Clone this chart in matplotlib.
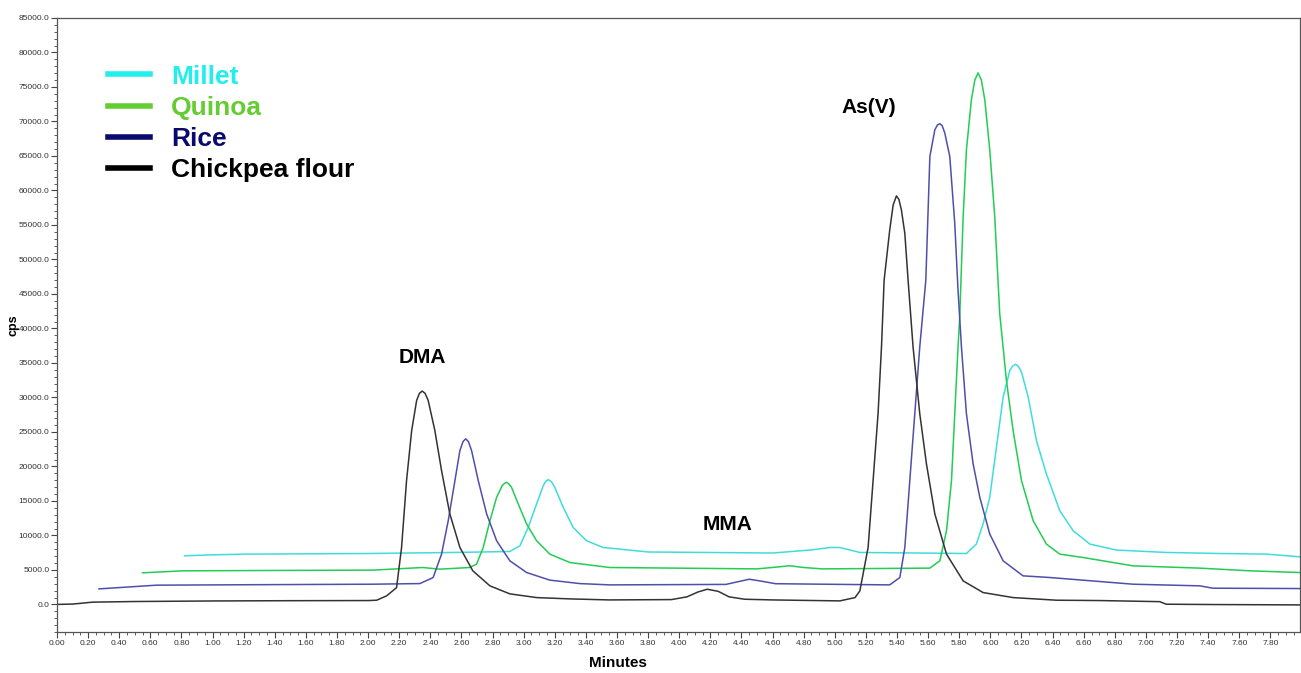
import matplotlib.pyplot as plt
from matplotlib.lines import Line2D
from matplotlib.ticker import MultipleLocator, FormatStrFormatter

plt.rcParams['font.family'] = ['Liberation Sans', 'DejaVu Sans']

# retention time (min) / intensity (cps)
chick_t = [0.0, 0.1, 0.23, 0.5, 1.0, 1.5, 2.0, 2.055, 2.119, 2.183, 2.215, 2.247, 2.28, 2.312,
           2.33, 2.348, 2.366, 2.386, 2.429, 2.472, 2.525, 2.59, 2.673, 2.783, 2.911, 3.083,
           3.297, 3.55, 3.95, 4.05, 4.12, 4.18, 4.25, 4.32, 4.42, 4.6, 5.032, 5.13, 5.161,
           5.214, 5.246, 5.278, 5.30, 5.317, 5.353, 5.375, 5.396, 5.412, 5.428, 5.45, 5.471,
           5.503, 5.546, 5.589, 5.643, 5.718, 5.825, 5.953, 6.146, 6.425, 6.703, 7.089, 7.13,
           7.45, 7.99]
chick_y = [0, 50, 330, 420, 500, 540, 560, 610, 1240, 2440, 8250, 17940, 25210, 29570,
           30600, 30920, 30600, 29570, 25210, 19400, 13150, 8250, 4870, 2690, 1530, 990,
           800, 650, 700, 1100, 1800, 2200, 1900, 1100, 750, 650, 510, 990, 1960,
           8250, 17940, 27640, 37310, 47000, 54270, 57900, 59210, 58700, 57170, 53790, 47000,
           37310, 27640, 20370, 13110, 7290, 3410, 1720, 990, 610, 560, 400, 30,
           -20, -70]

rice_t = [0.27, 0.64, 1.2, 2.03, 2.333, 2.418, 2.472, 2.515, 2.558, 2.59, 2.61, 2.627, 2.645,
          2.665, 2.708, 2.762, 2.826, 2.911, 3.019, 3.168, 3.361, 3.554, 4.3, 4.38, 4.45, 4.52,
          4.62, 5.353, 5.418, 5.45, 5.482, 5.514, 5.546, 5.585, 5.611, 5.643, 5.66, 5.675,
          5.69, 5.707, 5.739, 5.771, 5.792, 5.814, 5.846, 5.889, 5.932, 5.996, 6.082, 6.21,
          6.382, 6.917, 7.346, 7.43, 7.99]
rice_y = [2250, 2790, 2850, 2930, 3020, 3900, 7290, 12130, 17940, 22300, 23600, 24000, 23600,
          22300, 17940, 13110, 9230, 6320, 4620, 3520, 3020, 2830, 2900, 3300, 3650, 3400,
          3000, 2830, 3900, 8250, 17940, 27640, 37310, 47000, 64920, 68800, 69500, 69670,
          69400, 68320, 64920, 55240, 45550, 37310, 27640, 20370, 15520, 10200, 6320, 4140,
          3900, 2930, 2690, 2350, 2300]

quinoa_t = [0.55, 0.81, 1.5, 2.03, 2.35, 2.46, 2.654, 2.697, 2.74, 2.783, 2.826, 2.862, 2.877,
            2.89, 2.905, 2.922, 2.965, 3.019, 3.083, 3.168, 3.297, 3.554, 4.5, 4.62, 4.71, 4.8,
            4.92, 5.611, 5.675, 5.718, 5.75, 5.771, 5.792, 5.803, 5.825, 5.846, 5.878, 5.9,
            5.921, 5.942, 5.964, 5.996, 6.028, 6.06, 6.103, 6.146, 6.2, 6.275, 6.36, 6.446,
            6.596, 6.917, 7.346, 7.667, 7.99]
quinoa_y = [4580, 4870, 4930, 4970, 5350, 5110, 5350, 5840, 8250, 12130, 15520, 17220, 17550,
            17700, 17450, 16970, 14560, 11650, 9230, 7290, 6070, 5350, 5150, 5400, 5600, 5350,
            5150, 5260, 6320, 10680, 17940, 27640, 37310, 41670, 56200, 65890, 73160, 76000,
            77040, 76000, 73160, 65890, 56200, 42170, 32470, 25210, 17940, 12130, 8750, 7290,
            6800, 5590, 5260, 4870, 4620]

millet_t = [0.82, 1.005, 1.22, 2.01, 2.547, 2.911, 2.976, 3.029, 3.083, 3.126, 3.142, 3.158,
            3.178, 3.2, 3.254, 3.318, 3.404, 3.511, 3.8, 4.6, 4.85, 4.97, 5.032, 5.161, 5.846,
            5.91, 5.953, 5.996, 6.039, 6.082, 6.125, 6.145, 6.163, 6.18, 6.2, 6.243, 6.296,
            6.36, 6.446, 6.532, 6.639, 6.81, 7.132, 7.474, 7.774, 7.99]
millet_y = [7050, 7190, 7290, 7380, 7530, 7670, 8500, 11160, 14560, 17220, 17850, 18090,
            17800, 16970, 14070, 11160, 9230, 8250, 7600, 7450, 7900, 8250, 8250, 7530, 7380,
            8750, 11650, 15520, 22780, 30050, 33930, 34600, 34800, 34500, 33680, 30050, 23760,
            18920, 13590, 10680, 8750, 7880, 7530, 7380, 7290, 6900]

legend_names = ['Millet', 'Quinoa', 'Rice', 'Chickpea flour']
legend_colors = ['#22EEEE', '#66CC33', '#0A0A6E', '#000000']

fig = plt.figure(figsize=(13.01, 6.73), dpi=100)
ax = fig.add_axes([0.0438, 0.0609, 0.9554, 0.9124])

ax.plot(millet_t, millet_y, color='#40DCDC', lw=1.1)
ax.plot(quinoa_t, quinoa_y, color='#22CC55', lw=1.1)
ax.plot(rice_t, rice_y, color='#4F4FAA', lw=1.1)
ax.plot(chick_t, chick_y, color='#333333', lw=1.1)

ax.set_xlim(0, 7.99)
ax.set_ylim(-4000, 85000)
ax.xaxis.set_major_locator(MultipleLocator(0.2))
ax.xaxis.set_minor_locator(MultipleLocator(0.05))
ax.yaxis.set_major_locator(MultipleLocator(5000))
ax.yaxis.set_minor_locator(MultipleLocator(1000))
ax.xaxis.set_major_formatter(FormatStrFormatter('%.2f'))
ax.yaxis.set_major_formatter(FormatStrFormatter('%.1f'))
ax.tick_params(which='major', length=4, width=0.8, color='#444444', labelsize=6,
               labelcolor='#333333', pad=1.5)
ax.tick_params(which='minor', length=2, width=0.6, color='#444444')
for s in ax.spines.values():
    s.set_color('#555555')
    s.set_linewidth(0.9)

fig.text(618 / 1301, 1 - 663 / 673, 'Minutes', fontsize=11, fontweight='bold',
         ha='center', va='center')
fig.text(13 / 1301, 1 - 325 / 673, 'cps', fontsize=9, fontweight='bold',
         rotation=90, ha='center', va='center')

ax.text(2.35, 35800, 'DMA', fontsize=15, fontweight='bold', ha='center', va='center')
ax.text(4.31, 11550, 'MMA', fontsize=15, fontweight='bold', ha='center', va='center')
ax.text(5.22, 72000, 'As(V)', fontsize=15, fontweight='bold', ha='center', va='center')

handles = [Line2D([], [], color=c, lw=4) for c in legend_colors]
leg = ax.legend(handles, legend_names, loc='upper left', bbox_to_anchor=(0.041, 0.924),
                frameon=False, borderpad=0, borderaxespad=0, handlelength=1.6,
                handletextpad=0.8, labelspacing=0.27,
                prop={'size': 19, 'weight': 'bold'})
for txt, c in zip(leg.get_texts(), legend_colors):
    txt.set_color(c)

fig.savefig('out.png', dpi=100)
